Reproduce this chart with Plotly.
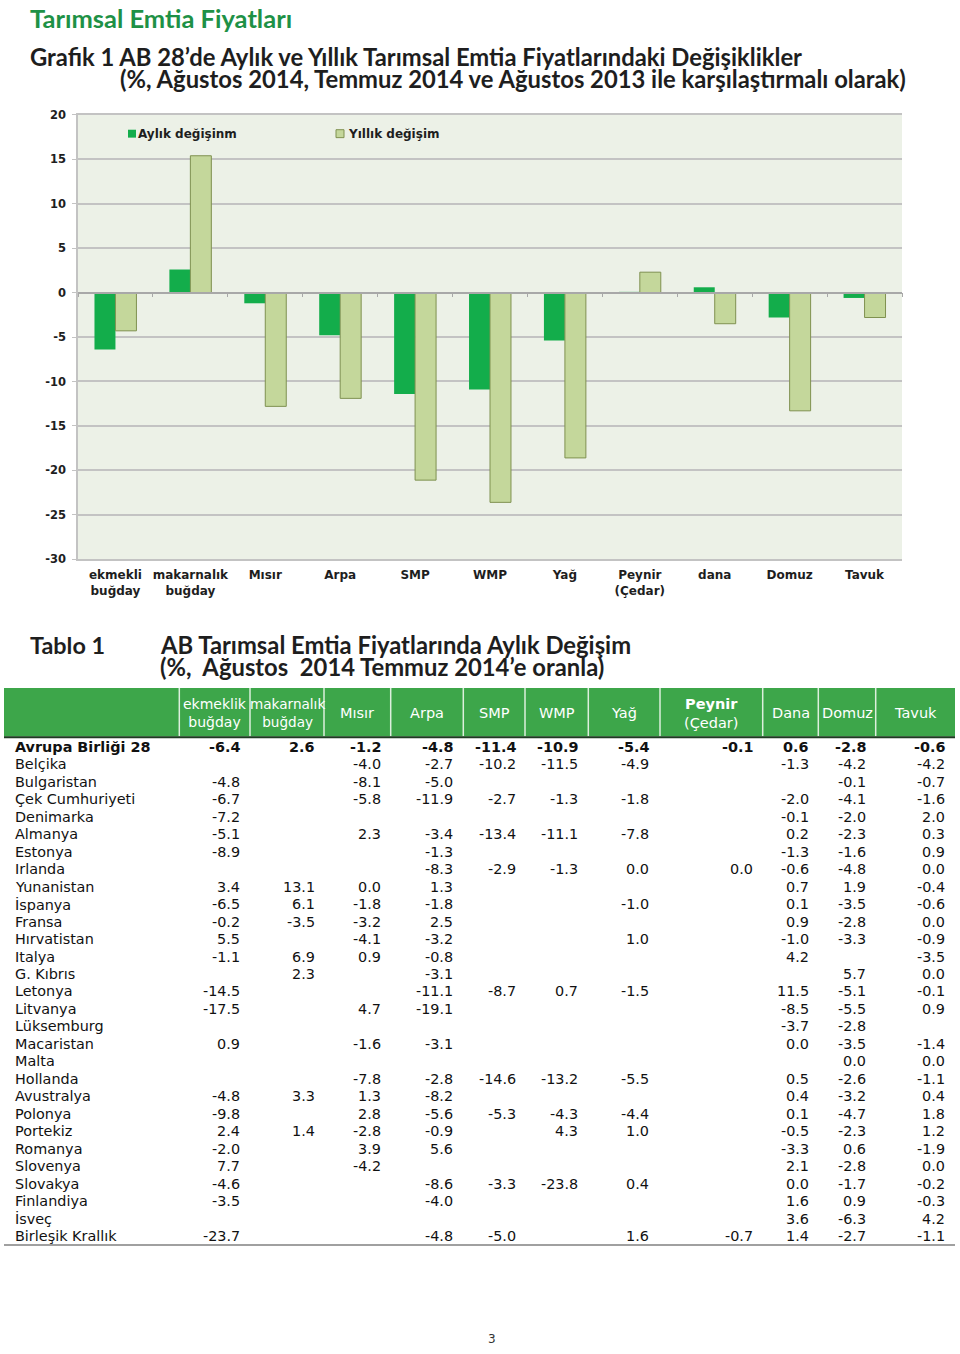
import plotly.graph_objects as go

W, H = 960, 1354

# ---------------- chart data ----------------
categories = ["ekmekli<br>buğday", "makarnalık<br>buğday", "Mısır", "Arpa", "SMP", "WMP",
              "Yağ", "Peynir<br>(Çedar)", "dana", "Domuz", "Tavuk"]
monthly = [-6.4, 2.6, -1.2, -4.8, -11.4, -10.9, -5.4, -0.1, 0.6, -2.8, -0.6]
annual = [-4.3, 15.4, -12.8, -11.9, -21.1, -23.6, -18.6, 2.3, -3.5, -13.3, -2.8]
y_ticks = [20, 15, 10, 5, 0, -5, -10, -15, -20, -25, -30]

# ---------------- table data ----------------
_ = None
row_labels = ["Avrupa Birliği 28", "Belçika", "Bulgaristan", "Çek Cumhuriyeti", "Denimarka",
              "Almanya", "Estonya", "Irlanda", "Yunanistan", "İspanya", "Fransa", "Hırvatistan",
              "Italya", "G. Kıbrıs", "Letonya", "Litvanya", "Lüksemburg", "Macaristan", "Malta",
              "Hollanda", "Avustralya", "Polonya", "Portekiz", "Romanya", "Slovenya", "Slovakya",
              "Finlandiya", "İsveç", "Birleşik Krallık"]
col_headers = ["ekmeklik<br>buğday", "makarnalık<br>buğday", "Mısır", "Arpa", "SMP", "WMP", "Yağ",
               "<b>Peynir</b><br>(Çedar)", "Dana", "Domuz", "Tavuk"]
ekmeklik = [-6.4, _, -4.8, -6.7, -7.2, -5.1, -8.9, _, 3.4, -6.5, -0.2, 5.5, -1.1, _, -14.5,
            -17.5, _, 0.9, _, _, -4.8, -9.8, 2.4, -2.0, 7.7, -4.6, -3.5, _, -23.7]
makarnalik = [2.6, _, _, _, _, _, _, _, 13.1, 6.1, -3.5, _, 6.9, 2.3, _,
              _, _, _, _, _, 3.3, _, 1.4, _, _, _, _, _, _]
misir = [-1.2, -4.0, -8.1, -5.8, _, 2.3, _, _, 0.0, -1.8, -3.2, -4.1, 0.9, _, _,
         4.7, _, -1.6, _, -7.8, 1.3, 2.8, -2.8, 3.9, -4.2, _, _, _, _]
arpa = [-4.8, -2.7, -5.0, -11.9, _, -3.4, -1.3, -8.3, 1.3, -1.8, 2.5, -3.2, -0.8, -3.1, -11.1,
        -19.1, _, -3.1, _, -2.8, -8.2, -5.6, -0.9, 5.6, _, -8.6, -4.0, _, -4.8]
smp = [-11.4, -10.2, _, -2.7, _, -13.4, _, -2.9, _, _, _, _, _, _, -8.7,
       _, _, _, _, -14.6, _, -5.3, _, _, _, -3.3, _, _, -5.0]
wmp = [-10.9, -11.5, _, -1.3, _, -11.1, _, -1.3, _, _, _, _, _, _, 0.7,
       _, _, _, _, -13.2, _, -4.3, 4.3, _, _, -23.8, _, _, _]
yag = [-5.4, -4.9, _, -1.8, _, -7.8, _, 0.0, _, -1.0, _, 1.0, _, _, -1.5,
       _, _, _, _, -5.5, _, -4.4, 1.0, _, _, 0.4, _, _, 1.6]
peynir = [-0.1, _, _, _, _, _, _, 0.0, _, _, _, _, _, _, _,
          _, _, _, _, _, _, _, _, _, _, _, _, _, -0.7]
dana = [0.6, -1.3, _, -2.0, -0.1, 0.2, -1.3, -0.6, 0.7, 0.1, 0.9, -1.0, 4.2, _, 11.5,
        -8.5, -3.7, 0.0, _, 0.5, 0.4, 0.1, -0.5, -3.3, 2.1, 0.0, 1.6, 3.6, 1.4]
domuz = [-2.8, -4.2, -0.1, -4.1, -2.0, -2.3, -1.6, -4.8, 1.9, -3.5, -2.8, -3.3, _, 5.7, -5.1,
         -5.5, -2.8, -3.5, 0.0, -2.6, -3.2, -4.7, -2.3, 0.6, -2.8, -1.7, 0.9, -6.3, -2.7]
tavuk = [-0.6, -4.2, -0.7, -1.6, 2.0, 0.3, 0.9, 0.0, -0.4, -0.6, 0.0, -0.9, -3.5, 0.0, -0.1,
         0.9, _, -1.4, 0.0, -1.1, 0.4, 1.8, 1.2, -1.9, 0.0, -0.2, -0.3, 4.2, -1.1]
table_columns = [ekmeklik, makarnalik, misir, arpa, smp, wmp, yag, peynir, dana, domuz, tavuk]


def X(px):
    return px / W


def Y(py):
    return 1 - py / H


# ---------------- layout geometry ----------------
plot_l, plot_r, plot_t, plot_b = 78, 902, 109, 558
ymin, ymax = -30, 20
zero_pos = Y(plot_b) + (0 - ymin) / (ymax - ymin) * (Y(plot_t) - Y(plot_b))

C_MONTH = "#13AD4B"
C_YEAR = "#C4D79B"
C_YEAR_LINE = "#7F9150"
GRID = "#C3C3C3"
TXT = "#1E1E1E"
CHART_FONT = "DejaVu Sans"
TITLE_FONT = "Lato"

fig = go.Figure()
fig.add_trace(go.Bar(x=categories, y=monthly, name="Aylık değişinm",
                     marker=dict(color=C_MONTH, line=dict(width=0)), showlegend=False))
fig.add_trace(go.Bar(x=categories, y=annual, name="Yıllık değişim",
                     marker=dict(color=C_YEAR, line=dict(color=C_YEAR_LINE, width=1)),
                     showlegend=False))
# invisible helper trace to anchor the zero-line axis with category boundary ticks
fig.add_trace(go.Scatter(x=[0], y=[0], xaxis="x2", yaxis="y", mode="markers",
                         marker=dict(opacity=0), showlegend=False, hoverinfo="skip"))

fig.update_layout(
    width=W, height=H, autosize=False,
    margin=dict(l=0, r=0, t=0, b=0),
    paper_bgcolor="white", plot_bgcolor="#ECF1E7",
    barmode="group", bargap=0.44, bargroupgap=0,
    xaxis=dict(domain=[X(plot_l), X(plot_r)], type="category",
               showgrid=False, showline=True, mirror=True, linecolor=GRID, linewidth=1.5,
               ticks="", tickfont=dict(family=CHART_FONT, size=12, color=TXT, weight="bold"),
               ticklabelstandoff=4),
    xaxis2=dict(overlaying="x", anchor="free", position=zero_pos, range=[-0.5, 10.5],
                tickvals=[i - 0.5 for i in range(12)], ticks="outside", ticklen=4,
                tickcolor="#A8A8A8", showticklabels=False, showgrid=False,
                showline=True, linecolor="#A8A8A8", linewidth=1.5, zeroline=False),
    yaxis=dict(domain=[Y(plot_b), Y(plot_t)], range=[ymin, ymax], tickvals=y_ticks,
               ticktext=[str(v) for v in y_ticks],
               showgrid=True, gridcolor=GRID, gridwidth=1.5, zeroline=False,
               showline=True, linecolor=GRID, linewidth=1.5,
               ticks="outside", ticklen=4, tickcolor=GRID, ticklabelstandoff=4,
               tickfont=dict(family=CHART_FONT, size=11.5, color=TXT, weight="bold")),
)

shapes = []
annotations = []

# manual legend inside chart
shapes.append(dict(type="rect", xref="paper", yref="paper", x0=X(128), x1=X(136), y0=Y(132), y1=Y(124),
                   fillcolor=C_MONTH, line=dict(width=0)))
shapes.append(dict(type="rect", xref="paper", yref="paper", x0=X(336), x1=X(344), y0=Y(132), y1=Y(124),
                   fillcolor=C_YEAR, line=dict(color=C_YEAR_LINE, width=1)))
annotations.append(dict(text="Aylık değişinm", x=X(136), y=Y(128), xref="paper", yref="paper",
                        xanchor="left", yanchor="middle", showarrow=False,
                        font=dict(family=CHART_FONT, size=12, color=TXT, weight="bold")))
annotations.append(dict(text="Yıllık değişim", x=X(346), y=Y(128), xref="paper", yref="paper",
                        xanchor="left", yanchor="middle", showarrow=False,
                        font=dict(family=CHART_FONT, size=12, color=TXT, weight="bold")))


# titles
def add_text(txt, x, y, size, color=TXT, family=TITLE_FONT, weight="bold", xanchor="left"):
    annotations.append(dict(text=txt, x=X(x), y=Y(y), xref="paper", yref="paper",
                            xanchor=xanchor, yanchor="middle", showarrow=False,
                            font=dict(family=family, size=size, color=color, weight=weight)))


add_text("Tarımsal Emtia Fiyatları", 28, 11, 25.5, color="#1E9146")
add_text("Grafik 1 AB 28’de Aylık ve Yıllık Tarımsal Emtia Fiyatlarındaki Değişiklikler", 28, 51, 23.8)
add_text("(%, Ağustos 2014, Temmuz 2014 ve Ağustos 2013 ile karşılaştırmalı olarak)", 118, 73, 23.8)
add_text("Tablo 1", 28, 645, 23.4)
add_text("AB Tarımsal Emtia Fiyatlarında Aylık Değişim", 158, 645, 23.8)
add_text("(%,  Ağustos  2014 Temmuz 2014’e oranla)", 158, 667, 23.8)
add_text("3", 492, 1346, 12, color="#333333", family=CHART_FONT, weight="normal", xanchor="center")

# ---------------- table ----------------
hdr_top, hdr_bot = 688, 737
tbl_l, tbl_r = 4, 955
col_bounds = [179.3, 250, 324, 390.7, 463.3, 525, 588.3, 660, 762.7, 818.3, 875.7, 955]
val_right = [240, 315, 381, 453, 516, 578, 649, 753, 809, 866, 945]
hdr_sizes = [14, 13.6, 14.5, 14.5, 14.5, 14.5, 14.5, 14.5, 14.5, 14.5, 14.5]

shapes.append(dict(type="rect", xref="paper", yref="paper", x0=X(tbl_l), x1=X(tbl_r),
                   y0=Y(hdr_bot), y1=Y(hdr_top), fillcolor="#3DA64A", line=dict(width=0)))
for b in col_bounds[:-1]:
    shapes.append(dict(type="line", xref="paper", yref="paper", x0=X(b), x1=X(b),
                       y0=Y(hdr_bot), y1=Y(hdr_top), line=dict(color="#DDEFDD", width=1.5)))
shapes.append(dict(type="line", xref="paper", yref="paper", x0=X(tbl_l), x1=X(tbl_r),
                   y0=Y(738), y1=Y(738), line=dict(color="#1F3A22", width=2)))
shapes.append(dict(type="line", xref="paper", yref="paper", x0=X(tbl_l), x1=X(tbl_r),
                   y0=Y(1251), y1=Y(1251), line=dict(color="#A0A0A0", width=2)))

for i, h in enumerate(col_headers):
    cx = (col_bounds[i] + col_bounds[i + 1]) / 2
    annotations.append(dict(text=h, x=X(cx), y=Y((hdr_top + hdr_bot) / 2 + 1), xref="paper", yref="paper",
                            xanchor="center", yanchor="middle", showarrow=False, align="center",
                            font=dict(family=CHART_FONT, size=hdr_sizes[i], color="white")))

row_y0, row_step = 747.5, (1242 - 747.5) / 28
for r, lab in enumerate(row_labels):
    y = row_y0 + r * row_step
    wt = "bold" if r == 0 else "normal"
    annotations.append(dict(text=lab, x=X(13), y=Y(y), xref="paper", yref="paper",
                            xanchor="left", yanchor="middle", showarrow=False,
                            font=dict(family=CHART_FONT, size=14.4, color="#111111", weight=wt)))
    for c, col in enumerate(table_columns):
        v = col[r]
        if v is None:
            continue
        annotations.append(dict(text=f"{v:.1f}", x=X(val_right[c] + 2), y=Y(y), xref="paper", yref="paper",
                                xanchor="right", yanchor="middle", showarrow=False,
                                font=dict(family=CHART_FONT, size=14.4, color="#111111", weight=wt)))

fig.update_layout(shapes=shapes, annotations=annotations)
fig.write_html("out.html", config={"displayModeBar": False},
               post_script="document.body.style.margin='0';document.body.style.overflow='hidden';")
